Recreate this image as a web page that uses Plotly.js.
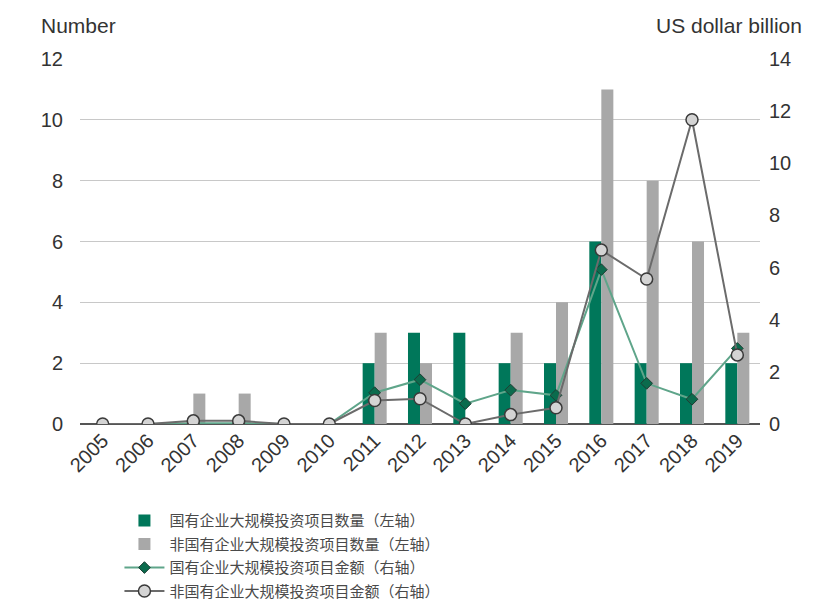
<!DOCTYPE html>
<html>
<head>
<meta charset="utf-8">
<script src="https://cdn.plot.ly/plotly-3.0.1.min.js"></script>
<style>html,body{margin:0;padding:0;background:#fff;}#chart{width:818px;height:607px;}</style>
</head>
<body>
<div id="chart"></div>
<script>
const years = ['2005','2006','2007','2008','2009','2010','2011','2012','2013','2014','2015','2016','2017','2018','2019'];
const soeCount = [0,0,0,0,0,0,2,3,3,2,2,6,2,2,2];
const nonSoeCount = [0,0,1,1,0,0,3,2,0,3,4,11,8,6,3];
const soeAmount = [0,0,0.03,0.03,0,0,1.2,1.7,0.78,1.3,1.1,5.92,1.56,0.95,2.9];
const nonSoeAmount = [0,0,0.12,0.12,0,0,0.9,0.97,0,0.36,0.62,6.67,5.56,11.67,2.65];
const names = ['国有企业大规模投资项目数量（左轴）','非国有企业大规模投资项目数量（左轴）','国有企业大规模投资项目金额（右轴）','非国有企业大规模投资项目金额（右轴）'];

const traces = [
  {type:'bar', x:years, y:soeCount, name:names[0], legendgroup:'a', marker:{color:'#00775a'}, yaxis:'y'},
  {type:'bar', x:years, y:nonSoeCount, name:names[1], legendgroup:'b', marker:{color:'#a8a8a8'}, yaxis:'y'},
  {type:'scatter', mode:'lines+markers', x:years, y:soeAmount, name:names[2], legendgroup:'c', yaxis:'y2',
   line:{color:'#5fa58a', width:2}, marker:{symbol:'diamond', size:9, color:'#0b6b4d', line:{color:'#1f3d33', width:1}}},
  {type:'scatter', mode:'lines+markers', x:years, y:nonSoeAmount, name:names[3], legendgroup:'d', yaxis:'y2',
   line:{color:'#6b6b6b', width:2}, marker:{symbol:'circle', size:12, color:'#d4d4d4', line:{color:'#3a3a3a', width:1.5}}}
];

const layout = {
  width:818, height:607,
  margin:{l:80, r:58, t:59, b:183, autoexpand:false},
  paper_bgcolor:'#fff', plot_bgcolor:'#fff',
  font:{family:'Liberation Sans, Arial, sans-serif', color:'#333', size:20},
  barmode:'group', bargap:0.47, bargroupgap:0,
  showlegend:true,
  legend:{orientation:'v', x:0.058, xanchor:'left', y:-0.22, yanchor:'top',
    font:{family:'Noto Sans CJK SC, sans-serif', size:15, color:'#4a4a4a'}, traceorder:'grouped', itemwidth:40, tracegroupgap:1},
  xaxis:{type:'category', range:[-0.5,14.5], tickangle:-45, tickfont:{size:20, color:'#333'}, showgrid:false, showline:false, ticks:'', zeroline:false, automargin:false},
  yaxis:{range:[0,12], dtick:2, showgrid:true, gridcolor:'#c8c8c8', gridwidth:1, zeroline:true, zerolinecolor:'#555', zerolinewidth:1.5,
    ticks:'', ticklen:0, tickfont:{size:20, color:'#333'}, showline:false, automargin:false, ticklabelstandoff:16},
  yaxis2:{range:[0,14], dtick:2, overlaying:'y', side:'right', showgrid:false, zeroline:false, ticks:'',
    tickfont:{size:20, color:'#333'}, showline:false, automargin:false, ticklabelstandoff:8},
  annotations:[
    {text:'Number', xref:'paper', yref:'paper', x:-0.06, y:1.055, xanchor:'left', yanchor:'bottom', showarrow:false, font:{size:21, color:'#333'}},
    {text:'US dollar billion', xref:'paper', yref:'paper', x:1.065, y:1.055, xanchor:'right', yanchor:'bottom', showarrow:false, font:{size:21, color:'#333'}}
  ]
};
Plotly.newPlot('chart', traces, layout, {displayModeBar:false, staticPlot:true});
</script>
</body>
</html>
